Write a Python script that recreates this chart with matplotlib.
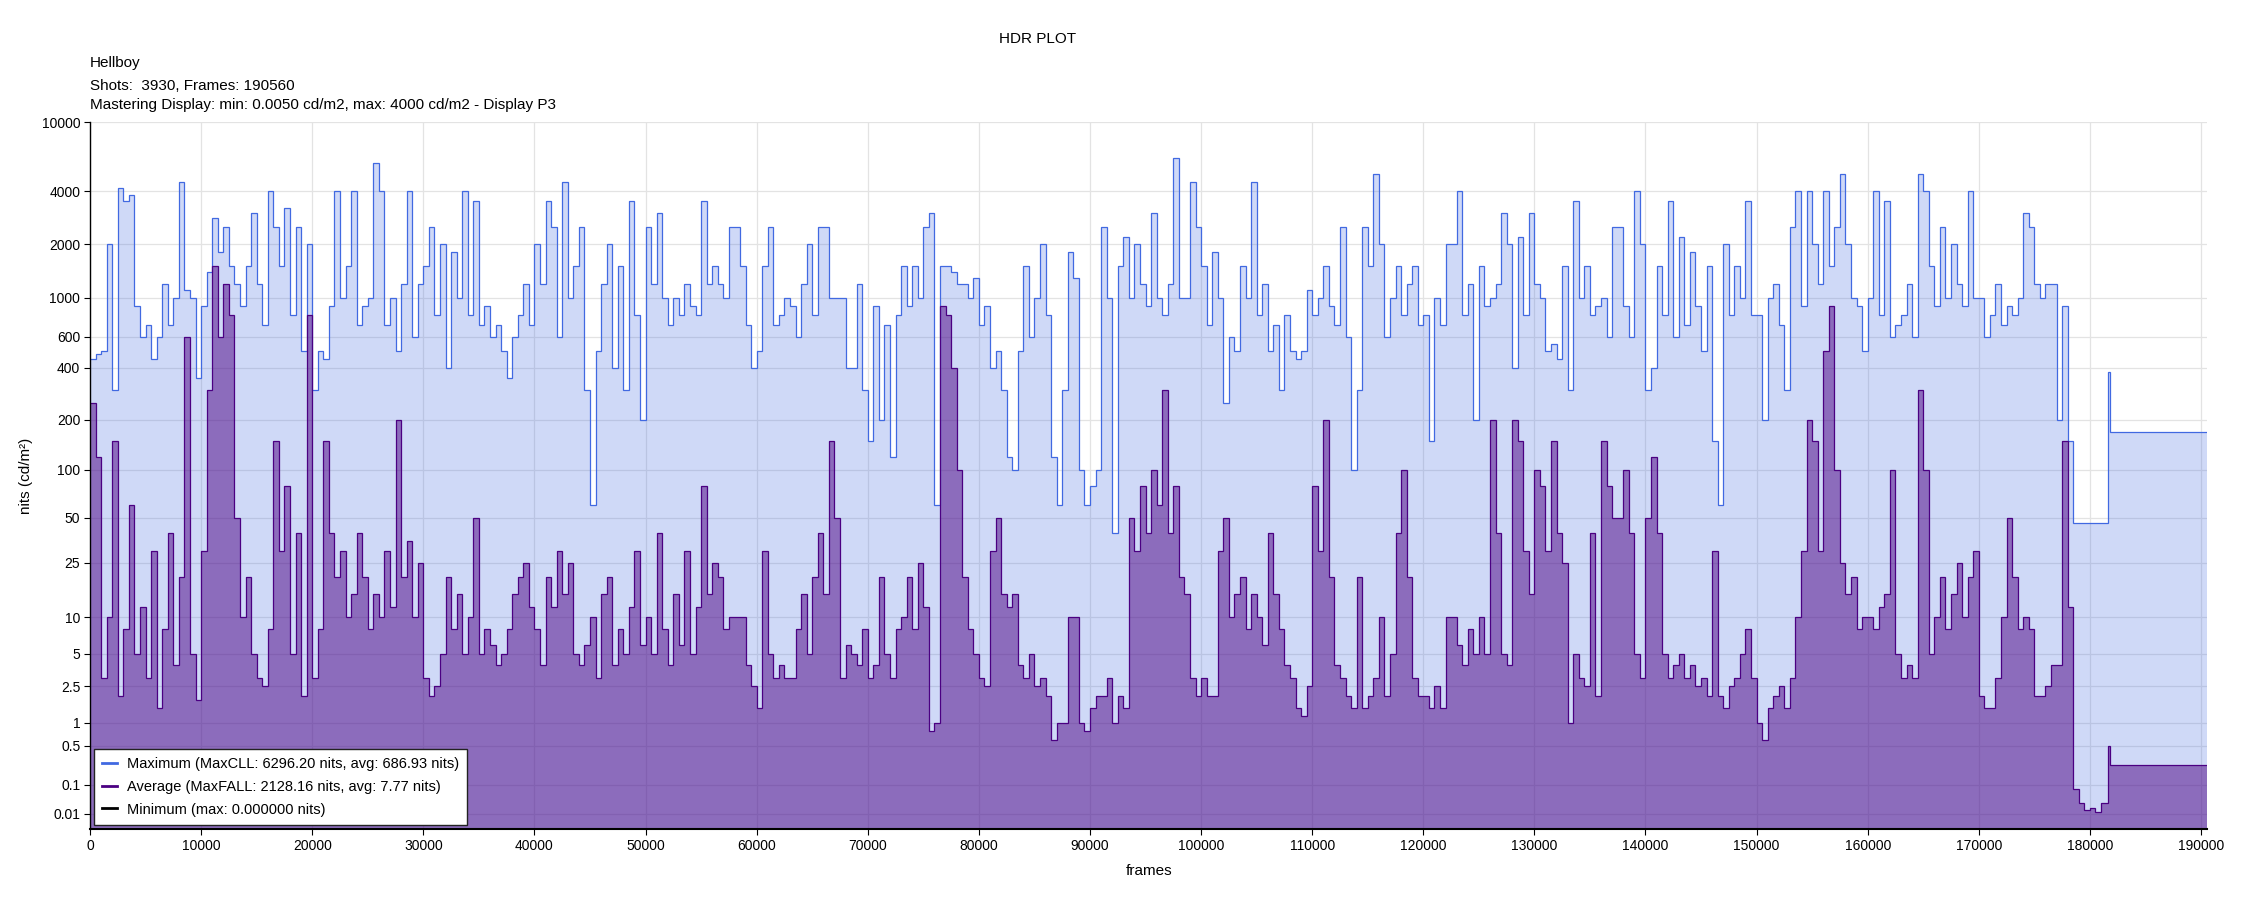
import numpy as np
import matplotlib
matplotlib.use("Agg")
import matplotlib.pyplot as plt
from matplotlib.ticker import FixedLocator, FixedFormatter, NullLocator

plt.rcParams['font.family'] = ['Liberation Sans', 'DejaVu Sans']

# ---- data (nits per 500-frame block) ----
bin_frames = 500
frame_count = 190560

max_d0 = [450, 480, 500, 2000, 300, 4200, 3500, 3800, 900, 600, 700, 450, 600, 1200, 700, 1000, 4500, 1100, 1000, 350]
avg_d0 = [250, 120, 3, 10, 150, 2, 8, 60, 5, 12, 3, 30, 1.5, 8, 40, 4, 20, 600, 5, 1.8]
max_d1 = [900, 1400, 2800, 1800, 2500, 1500, 1200, 900, 1500, 3000, 1200, 700, 4000, 2500, 1500, 3200, 800, 2500, 500, 2000]
avg_d1 = [30, 300, 1500, 600, 1200, 800, 50, 10, 20, 5, 3, 2.5, 8, 150, 30, 80, 5, 40, 2, 800]
max_d2 = [300, 500, 450, 900, 4000, 1000, 1500, 4000, 700, 900, 1000, 5800, 4000, 700, 1000, 500, 1200, 4000, 600, 1200]
avg_d2 = [3, 8, 150, 40, 20, 30, 10, 15, 40, 20, 8, 15, 10, 30, 12, 200, 20, 35, 10, 25]
max_d3 = [1500, 2500, 800, 2000, 400, 1800, 1000, 4000, 800, 3500, 700, 900, 600, 700, 500, 350, 600, 800, 1200, 700]
avg_d3 = [3, 2, 2.5, 5, 20, 8, 15, 5, 10, 50, 5, 8, 6, 4, 5, 8, 15, 20, 25, 12]
max_d4 = [2000, 1200, 3500, 2500, 600, 4500, 1000, 1500, 2500, 300, 60, 500, 1200, 2000, 400, 1500, 300, 3500, 800, 200]
avg_d4 = [8, 4, 20, 12, 30, 15, 25, 5, 4, 6, 10, 3, 15, 20, 4, 8, 5, 12, 30, 6]
max_d5 = [2500, 1200, 3000, 1000, 700, 1000, 800, 1200, 900, 800, 3500, 1200, 1500, 1200, 1000, 2500, 2500, 1500, 700, 400]
avg_d5 = [10, 5, 40, 8, 4, 15, 6, 30, 5, 12, 80, 15, 25, 20, 8, 10, 10, 10, 4, 2.5]
max_d6 = [500, 1500, 2500, 700, 800, 1000, 900, 600, 1200, 2000, 800, 2500, 2500, 1000, 1000, 1000, 400, 400, 1200, 300]
avg_d6 = [1.5, 30, 5, 3, 4, 3, 3, 8, 15, 5, 20, 40, 15, 150, 50, 3, 6, 5, 4, 8]
max_d7 = [150, 900, 200, 700, 120, 800, 1500, 900, 1500, 1000, 2500, 3000, 60, 1500, 1500, 1400, 1200, 1200, 1000, 1300]
avg_d7 = [3, 4, 20, 5, 3, 8, 10, 20, 8, 25, 12, 0.8, 1, 900, 800, 400, 100, 20, 8, 5]
max_d8 = [700, 900, 400, 500, 300, 120, 100, 500, 1500, 600, 1000, 2000, 800, 120, 60, 300, 1800, 1300, 100, 60]
avg_d8 = [3, 2.5, 30, 50, 15, 12, 15, 4, 3, 5, 2.5, 3, 2, 0.6, 1, 1, 10, 10, 1, 0.8]
max_d9 = [80, 100, 2500, 1000, 40, 1500, 2200, 1000, 2000, 1200, 900, 3000, 1000, 800, 1200, 6200, 1000, 1000, 4500, 2500]
avg_d9 = [1.5, 2, 2, 3, 1, 2, 1.5, 50, 30, 80, 40, 100, 60, 300, 40, 80, 20, 15, 3, 2]
max_d10 = [1500, 700, 1800, 1000, 250, 600, 500, 1500, 1000, 4500, 800, 1200, 500, 700, 300, 800, 500, 450, 500, 1100]
avg_d10 = [3, 2, 2, 30, 50, 10, 15, 20, 8, 15, 10, 6, 40, 15, 8, 4, 3, 1.5, 1.2, 2.5]
max_d11 = [800, 1000, 1500, 900, 700, 2500, 600, 100, 300, 2500, 1500, 5000, 2000, 600, 1000, 1500, 800, 1200, 1500, 700]
avg_d11 = [80, 30, 200, 20, 4, 3, 2, 1.5, 20, 1.5, 2, 3, 10, 2, 5, 40, 100, 20, 3, 2]
max_d12 = [800, 150, 1000, 700, 2000, 2000, 4000, 800, 1200, 200, 1500, 900, 1000, 1200, 3000, 2000, 400, 2200, 800, 3000]
avg_d12 = [2, 1.5, 2.5, 1.5, 10, 10, 6, 4, 8, 5, 10, 5, 200, 40, 5, 4, 200, 150, 30, 15]
max_d13 = [1200, 1000, 500, 550, 450, 1500, 300, 3500, 1000, 1500, 800, 900, 1000, 600, 2500, 2500, 900, 600, 4000, 2000]
avg_d13 = [100, 80, 30, 150, 40, 25, 1, 5, 3, 2.5, 40, 2, 150, 80, 50, 50, 100, 40, 5, 3]
max_d14 = [300, 400, 1500, 800, 3500, 600, 2200, 700, 1800, 900, 500, 1500, 150, 60, 2000, 800, 1500, 1000, 3500, 800]
avg_d14 = [50, 120, 40, 5, 3, 4, 5, 3, 4, 2.5, 3, 2, 30, 2, 1.5, 2.5, 3, 5, 8, 3]
max_d15 = [800, 200, 1000, 1200, 700, 300, 2500, 4000, 900, 4000, 2000, 1200, 4000, 1500, 2500, 5000, 2000, 1000, 900, 500]
avg_d15 = [1, 0.6, 1.5, 2, 2.5, 1.5, 3, 10, 30, 200, 150, 30, 500, 900, 100, 25, 15, 20, 8, 10]
max_d16 = [1000, 4000, 800, 3500, 600, 700, 800, 1200, 600, 5000, 4000, 1500, 900, 2500, 1000, 2000, 1200, 900, 4000, 1000]
avg_d16 = [10, 8, 12, 15, 100, 5, 3, 4, 3, 300, 100, 5, 10, 20, 8, 15, 25, 10, 20, 30]
max_d17 = [1000, 600, 800, 1200, 700, 900, 800, 1000, 3000, 2500, 1200, 1000, 1200, 1200, 200, 900, 150]
avg_d17 = [2, 1.5, 1.5, 3, 10, 50, 20, 8, 10, 8, 2, 2, 2.5, 4, 4, 150, 12]

# credits / end part, irregular shot lengths (blocks above end at 178500)
tail_edges = [179000, 179500, 180000, 180500, 181000, 181600, 181800, frame_count]
tail_max = [46, 46, 46, 46, 46, 46, 380, 170]
tail_avg = [0.08, 0.03, 0.015, 0.02, 0.012, 0.03, 0.5, 0.25]

y_ticks = [0.01, 0.1, 0.5, 1, 2.5, 5, 10, 25, 50, 100, 200, 400, 600, 1000, 2000, 4000, 10000]
y_tick_labels = ['0.01', '0.1', '0.5', '1', '2.5', '5', '10', '25', '50', '100', '200',
                 '400', '600', '1000', '2000', '4000', '10000']

max_label = 'Maximum (MaxCLL: 6296.20 nits, avg: 686.93 nits)'
avg_label = 'Average (MaxFALL: 2128.16 nits, avg: 7.77 nits)'
min_label = 'Minimum (max: 0.000000 nits)'

# ---- ST 2084 (PQ) axis ----
M1 = 2610 / 16384
M2 = 2523 / 4096 * 128
C1 = 3424 / 4096
C2 = 2413 / 4096 * 32
C3 = 2392 / 4096 * 32


def pq_forward(nits):
    y = np.clip(np.asarray(nits, dtype=float), 0, None) / 10000.0
    ym = y ** M1
    return ((C1 + C2 * ym) / (1 + C3 * ym)) ** M2


def pq_inverse(v):
    v = np.clip(np.asarray(v, dtype=float), 0, 1.005)
    vp = v ** (1 / M2)
    num = np.clip(vp - C1, 0, None)
    den = C2 - C3 * vp
    return 10000.0 * (num / den) ** (1 / M1)


max_blocks = (max_d0 + max_d1 + max_d2 + max_d3 + max_d4 + max_d5 + max_d6 + max_d7 + max_d8
              + max_d9 + max_d10 + max_d11 + max_d12 + max_d13 + max_d14 + max_d15 + max_d16 + max_d17)
avg_blocks = (avg_d0 + avg_d1 + avg_d2 + avg_d3 + avg_d4 + avg_d5 + avg_d6 + avg_d7 + avg_d8
              + avg_d9 + avg_d10 + avg_d11 + avg_d12 + avg_d13 + avg_d14 + avg_d15 + avg_d16 + avg_d17)

edges = np.concatenate([np.arange(len(max_blocks) + 1) * bin_frames, tail_edges])
max_vals = np.array(max_blocks + tail_max, dtype=float)
avg_vals = np.array(avg_blocks + tail_avg, dtype=float)
min_vals = np.zeros_like(max_vals)

fig = plt.figure(figsize=(22.5, 9), dpi=100)
ax = fig.add_axes([0.04, 0.079, 0.941, 0.785])
ax.set_yscale('function', functions=(pq_forward, pq_inverse))

ax.stairs(max_vals, edges, baseline=0, fill=True, color=(65/255, 105/255, 225/255, 0.25), lw=0)
ax.stairs(avg_vals, edges, baseline=0, fill=True, color=(75/255, 0, 130/255, 0.5), lw=0)
ax.stairs(max_vals, edges, baseline=None, color='#4169E1', lw=0.9)
ax.stairs(avg_vals, edges, baseline=None, color='#4B0082', lw=0.9)
ax.stairs(min_vals, edges, baseline=None, color='black', lw=1.2)

# legend proxies
ax.plot([], [], color='#4169E1', lw=2, label=max_label)
ax.plot([], [], color='#4B0082', lw=2, label=avg_label)
ax.plot([], [], color='black', lw=2, label=min_label)

ax.set_xlim(0, frame_count)
ax.set_ylim(0, 10000)
ax.xaxis.set_major_locator(FixedLocator(np.arange(0, 190001, 10000)))
ax.yaxis.set_major_locator(FixedLocator(y_ticks))
ax.yaxis.set_major_formatter(FixedFormatter(y_tick_labels))
ax.yaxis.set_minor_locator(NullLocator())
ax.xaxis.set_minor_locator(NullLocator())
ax.grid(True, color='#e3e3e3', lw=0.9)
ax.set_axisbelow(True)
for sp in ['top', 'right']:
    ax.spines[sp].set_visible(False)
ax.spines['left'].set_linewidth(1.0)
ax.spines['bottom'].set_linewidth(1.5)
ax.tick_params(axis='both', labelsize=10, length=4, width=0.8, direction='out', pad=3)

ax.set_xlabel('frames', fontsize=11, labelpad=8)
ax.set_ylabel('nits (cd/m²)', fontsize=11, labelpad=6)

fig.text(0.461, 0.957, 'HDR PLOT', ha='center', va='center', fontsize=11)
fig.text(0.04, 0.930, 'Hellboy', ha='left', va='center', fontsize=11)
fig.text(0.04, 0.905, 'Shots:  3930, Frames: 190560', ha='left', va='center', fontsize=11)
fig.text(0.04, 0.883, 'Mastering Display: min: 0.0050 cd/m2, max: 4000 cd/m2 - Display P3',
         ha='left', va='center', fontsize=11)

leg = ax.legend(loc='lower left', bbox_to_anchor=(0.0, 0.0), fontsize=10.5, frameon=True,
                fancybox=False, framealpha=1, edgecolor='#222222', handlelength=1.0,
                labelspacing=0.6, borderpad=0.55, handletextpad=0.7, borderaxespad=0.3)
leg.get_frame().set_linewidth(1.0)

fig.savefig('out.png', dpi=100, facecolor='white')
